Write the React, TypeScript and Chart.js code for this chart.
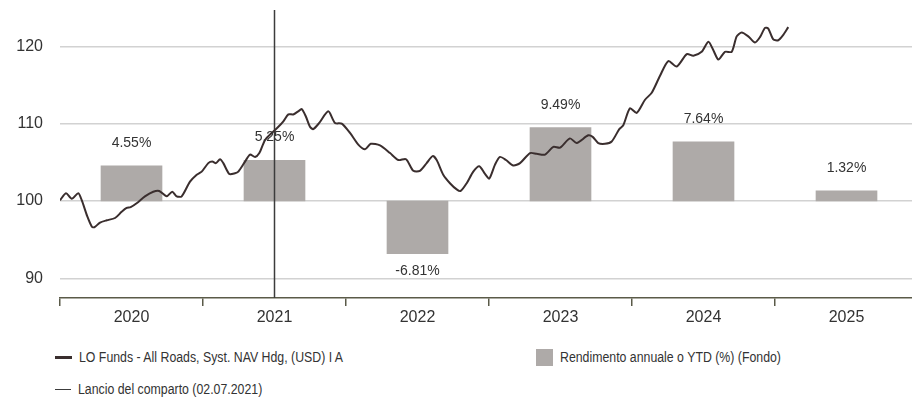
import { useEffect, useRef } from 'react';
import { Chart, registerables } from 'chart.js';

Chart.register(...registerables);

const startYear = 2020;
const years = ['2020', '2021', '2022', '2023', '2024', '2025'];
const annualReturns = [4.55, 5.25, -6.81, 9.49, 7.64, 1.32];
const baseValue = 100;
const yTicks = [90, 100, 110, 120];
const launchDate = 2021.5;
const launchLabel = 'Lancio del comparto (02.07.2021)';
const fundLabel = 'LO Funds - All Roads, Syst. NAV Hdg, (USD) I A';
const barLabel = 'Rendimento annuale o YTD (%) (Fondo)';

const navDates = [
  2020.0, 2020.042, 2020.082, 2020.128, 2020.152, 2020.191, 2020.222, 2020.24, 2020.28, 2020.327,
  2020.385, 2020.431, 2020.466, 2020.494, 2020.536, 2020.594, 2020.652, 2020.694, 2020.746, 2020.785,
  2020.816, 2020.851, 2020.909, 2020.956, 2020.991, 2021.037, 2021.065, 2021.091, 2021.119, 2021.142,
  2021.184, 2021.224, 2021.247, 2021.294, 2021.329, 2021.364, 2021.394, 2021.434, 2021.48, 2021.527,
  2021.562, 2021.597, 2021.631, 2021.666, 2021.69, 2021.72, 2021.748, 2021.771, 2021.813, 2021.876,
  2021.923, 2021.97, 2022.028, 2022.086, 2022.133, 2022.173, 2022.238, 2022.308, 2022.366, 2022.42,
  2022.471, 2022.517, 2022.564, 2022.606, 2022.634, 2022.68, 2022.727, 2022.774, 2022.802, 2022.844,
  2022.89, 2022.932, 2022.972, 2023.002, 2023.042, 2023.077, 2023.119, 2023.17, 2023.217, 2023.287,
  2023.334, 2023.392, 2023.45, 2023.497, 2023.566, 2023.613, 2023.694, 2023.725, 2023.764, 2023.811,
  2023.858, 2023.911, 2023.939, 2023.986, 2024.033, 2024.091, 2024.138, 2024.196, 2024.254, 2024.313,
  2024.383, 2024.429, 2024.487, 2024.534, 2024.569, 2024.604, 2024.65, 2024.697, 2024.732, 2024.767,
  2024.813, 2024.86, 2024.895, 2024.93, 2024.953, 2024.988, 2025.023, 2025.058, 2025.093,
];
const navValues = [
  100.1, 101.0, 100.3, 101.0, 100.1, 98.0, 96.7, 96.6, 97.2, 97.5,
  97.8, 98.6, 99.1, 99.2, 99.7, 100.6, 101.2, 101.3, 100.6, 101.2,
  100.6, 100.6, 102.5, 103.4, 103.8, 104.9, 105.1, 104.9, 105.4, 104.9,
  103.5, 103.6, 103.8, 105.1, 106.0, 105.7, 106.2, 107.9, 108.8, 109.6,
  110.3, 111.2, 111.2, 111.6, 111.9, 110.9, 109.6, 109.3, 110.1, 111.6,
  110.1, 110.0, 108.8, 107.3, 106.7, 107.4, 107.2, 106.2, 105.3, 105.4,
  103.9, 103.9, 104.9, 105.8, 105.3, 103.4, 102.3, 101.5, 101.3, 102.3,
  103.8, 104.5, 103.5, 102.9, 104.7, 105.7, 105.3, 104.6, 104.9, 106.2,
  106.1, 106.0, 107.0, 106.9, 108.1, 107.5, 108.5, 108.3, 107.5, 107.4,
  107.7, 109.3, 109.8, 112.0, 111.4, 113.1, 114.0, 116.2, 118.1, 117.4,
  119.0, 118.8, 119.3, 120.6, 119.5, 118.3, 119.3, 119.3, 121.3, 121.8,
  121.3, 120.5, 121.2, 122.4, 122.3, 120.9, 120.8, 121.5, 122.5,
];

const Y_MIN = 87.45;
const Y_MAX = 124.71;
const X_MAX = 2025.958;

const lineColor = '#3a2e2e';
const barColor = '#aeaaa8';
const launchColor = '#3c3c3c';
const axisColor = '#5a5a48';
const textColor = '#333333';
const tickFont = "'Liberation Sans', Arial, sans-serif";

const barLabelPlugin = {
  id: 'barLabels',
  afterDatasetsDraw(chart: any) {
    const meta = chart.getDatasetMeta(1);
    const ctx = chart.ctx;
    ctx.save();
    ctx.font = `14px ${tickFont}`;
    ctx.fillStyle = textColor;
    ctx.textAlign = 'center';
    ctx.textBaseline = 'middle';
    meta.data.forEach((el: any, i: number) => {
      const v = annualReturns[i];
      const txt = v.toFixed(2) + '%';
      const top = Math.min(el.y, el.base);
      const bottom = Math.max(el.y, el.base);
      const y = v >= 0 ? top - 23 : bottom + 18;
      ctx.fillText(txt, el.x, y);
    });
    ctx.restore();
  },
};

export default function App() {
  const ref = useRef<HTMLCanvasElement>(null);

  useEffect(() => {
    const lineData = navDates.map((d, i) => ({ x: d, y: navValues[i] }));
    const barData = annualReturns.map((r, i) => ({ x: startYear + i + 0.5, y: [baseValue, baseValue + r] }));
    const launchData = [
      { x: launchDate, y: Y_MAX },
      { x: launchDate, y: Y_MIN },
    ];

    const chart = new Chart(ref.current as HTMLCanvasElement, {
      type: 'line',
      data: {
        datasets: [
          {
            type: 'line',
            label: fundLabel,
            data: lineData as any,
            borderColor: lineColor,
            borderWidth: 2,
            pointRadius: 0,
            tension: 0.25,
            order: 0,
          },
          {
            type: 'bar',
            label: barLabel,
            data: barData as any,
            backgroundColor: barColor,
            borderWidth: 0,
            barThickness: 61,
            order: 3,
          },
          {
            type: 'line',
            label: launchLabel,
            data: launchData as any,
            borderColor: launchColor,
            borderWidth: 1.5,
            pointRadius: 0,
            order: 1,
          },
        ],
      },
      options: {
        animation: false,
        responsive: false,
        layout: { padding: { top: 10, right: 0, left: 0, bottom: 0 } },
        plugins: {
          legend: { display: false },
          tooltip: { enabled: false },
        },
        scales: {
          x: {
            type: 'linear',
            offset: false,
            min: startYear,
            max: X_MAX,
            afterBuildTicks: (scale: any) => {
              const t: any[] = [];
              years.forEach((_, i) => {
                t.push({ value: startYear + i });
                t.push({ value: startYear + i + 0.5 });
              });
              scale.ticks = t;
            },
            afterFit: (scale: any) => {
              scale.height = 32;
            },
            ticks: {
              autoSkip: false,
              maxRotation: 0,
              padding: 2,
              color: textColor,
              font: { family: tickFont, size: 16 },
              callback: (value: any) => {
                const v = Number(value);
                if (Number.isInteger(v)) return '';
                return years[Math.floor(v) - startYear];
              },
            },
            grid: {
              offset: false,
              drawOnChartArea: false,
              drawTicks: true,
              tickLength: 8,
              lineWidth: 1.5,
              tickColor: (c: any) => (c.tick && Number.isInteger(c.tick.value) ? axisColor : 'rgba(0,0,0,0)'),
            },
            border: { display: true, color: axisColor, width: 1.5 },
          },
          y: {
            type: 'linear',
            min: Y_MIN,
            max: Y_MAX,
            afterBuildTicks: (scale: any) => {
              scale.ticks = yTicks.map((v) => ({ value: v }));
            },
            afterFit: (scale: any) => {
              scale.width = 60;
            },
            ticks: {
              padding: 0,
              color: textColor,
              font: { family: tickFont, size: 16, lineHeight: 1 },
              callback: (value: any) => String(value),
            },
            grid: {
              drawTicks: true,
              tickLength: 17,
              tickColor: 'rgba(0,0,0,0)',
              color: '#d2d2d2',
              lineWidth: 1.5,
            },
            border: { display: false },
          },
        },
      },
      plugins: [barLabelPlugin],
    } as any);

    return () => chart.destroy();
  }, []);

  const legendText: any = {
    position: 'absolute',
    fontFamily: tickFont,
    fontSize: 14,
    color: textColor,
    whiteSpace: 'nowrap',
    lineHeight: '18px',
    height: 18,
    transform: 'scaleX(0.88)',
    transformOrigin: 'left center',
  };

  return (
    <div
      style={{
        position: 'absolute',
        left: 0,
        top: 0,
        width: 912,
        height: 403,
        background: '#ffffff',
        overflow: 'hidden',
      }}
    >
      <canvas ref={ref} width={912} height={330} style={{ display: 'block' }} />
      <div style={{ position: 'absolute', left: 55, top: 355.5, width: 17, height: 3, background: lineColor }} />
      <div style={{ ...legendText, left: 79, top: 348 }}>{fundLabel}</div>
      <div style={{ position: 'absolute', left: 536, top: 349, width: 17, height: 17, background: barColor }} />
      <div style={{ ...legendText, left: 560, top: 348 }}>{barLabel}</div>
      <div style={{ position: 'absolute', left: 55, top: 388.5, width: 16, height: 1.5, background: launchColor }} />
      <div style={{ ...legendText, left: 78, top: 380 }}>{launchLabel}</div>
    </div>
  );
}
